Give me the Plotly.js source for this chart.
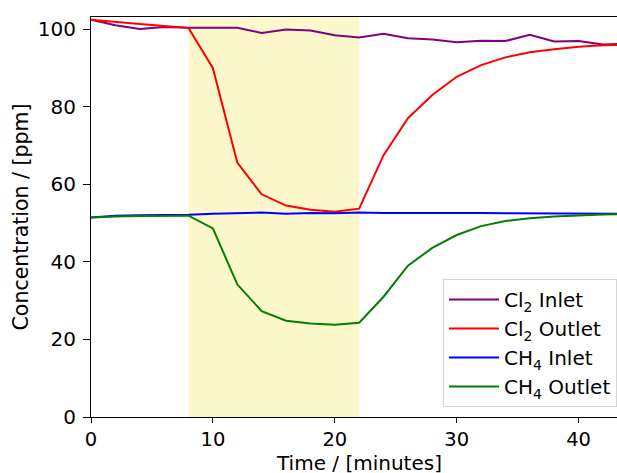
<!DOCTYPE html>
<html>
<head>
<meta charset="utf-8">
<script src="https://cdn.plot.ly/plotly-3.0.1.min.js"></script>
<style>html,body{margin:0;padding:0;background:#fff;}#chart{width:617px;height:473px;}</style>
</head>
<body>
<div id="chart"></div>
<script>
const time = [0,2,4,6,8,10,12,14,16,18,20,22,24,26,28,30,32,34,36,38,40,42,44];
const cl2Inlet  = [102.4,101.0,100.0,100.5,100.3,100.3,100.3,99.0,99.9,99.6,98.4,97.8,98.8,97.6,97.3,96.6,97.0,96.9,98.5,96.8,96.9,96.0,96.3];
const cl2Outlet = [102.4,101.8,101.3,100.8,100.3,89.9,65.6,57.4,54.5,53.4,52.9,53.7,67.5,77.0,83.0,87.7,90.7,92.7,94.0,94.8,95.4,95.8,96.0];
const ch4Inlet  = [51.4,51.9,52.0,52.0,52.1,52.4,52.6,52.7,52.4,52.6,52.5,52.7,52.6,52.6,52.6,52.7,52.6,52.5,52.5,52.4,52.4,52.4,52.4];
const ch4Outlet = [51.4,51.7,51.8,51.8,51.9,48.6,34.2,27.3,24.8,24.1,23.8,24.3,31.0,39.0,43.6,46.9,49.2,50.5,51.2,51.7,52.0,52.2,52.3];
const names = ['Cl<sub>2</sub> Inlet','Cl<sub>2</sub> Outlet','CH<sub>4</sub> Inlet','CH<sub>4</sub> Outlet'];
const colors = ['#800080','#ff0000','#0000ff','#008000'];
const shadeStart = 8, shadeEnd = 22;
const xTicks = [0,10,20,30,40];
const yTicks = [0,20,40,60,80,100];
const xTitle = 'Time / [minutes]';
const yTitle = 'Concentration / [ppm]';

const series = [cl2Inlet, cl2Outlet, ch4Inlet, ch4Outlet];
const traces = series.map((s,i)=>({
  x: time, y: s, type:'scatter', mode:'lines', name: names[i],
  line:{color: colors[i], width:2}
}));
const font = "DejaVu Sans, sans-serif";
const layout = {
  width:617, height:473,
  margin:{l:91, r:0, t:17, b:56},
  paper_bgcolor:'#fff', plot_bgcolor:'#fff',
  font:{family:font, color:'#000', size:20},
  showlegend:true,
  legend:{x:1, xanchor:'right', y:0.025, yanchor:'bottom', itemwidth:50,
    bgcolor:'rgba(255,255,255,0.8)', bordercolor:'#d6d6d6', borderwidth:1,
    font:{family:font, size:20, color:'#000'}},
  xaxis:{range:[0,43.15], tickvals:xTicks, ticks:'outside', ticklen:5, tickcolor:'#000',
    showline:true, mirror:true, linecolor:'#000', linewidth:1, showgrid:false, zeroline:false,
    tickfont:{family:font, size:19.5}, ticklabelstandoff:0},
  yaxis:{range:[0,103.1], tickvals:yTicks, ticks:'outside', ticklen:7, tickcolor:'#000',
    showline:true, mirror:true, linecolor:'#000', linewidth:1, showgrid:false, zeroline:false,
    tickfont:{family:font, size:20}, ticklabelstandoff:3,
    title:{text:yTitle, font:{family:font, size:20.5}, standoff:3}},
  annotations:[{text:xTitle, xref:'paper', yref:'paper', x:0.5, y:0, xanchor:'center', yanchor:'top',
    xshift:5, yshift:-33, showarrow:false, borderpad:0, font:{family:font, size:20, color:'#000'}}],
  shapes:[{type:'rect', xref:'x', yref:'paper', x0:shadeStart, x1:shadeEnd, y0:0, y1:1,
    fillcolor:'#fdf7cc', line:{width:0}, layer:'below'}]
};
Plotly.newPlot('chart', traces, layout, {displayModeBar:false, staticPlot:true});
</script>
</body>
</html>
